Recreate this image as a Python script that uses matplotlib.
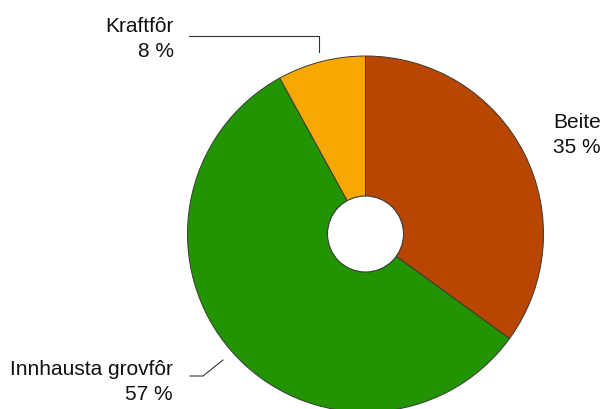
import matplotlib.pyplot as plt
from matplotlib.patches import Circle

labels = ['Beite', 'Innhausta grovfôr', 'Kraftfôr']
values = [35, 57, 8]
colors = ['#B84600', '#229400', '#F7A800']

plt.rcParams['font.family'] = ['Liberation Sans', 'DejaVu Sans']

fig = plt.figure(figsize=(6.06, 4.10), dpi=100)
ax = fig.add_axes([0, 0, 1, 1])

cx, cy, r = 365.5, 175, 178
ax.pie(values, colors=colors, startangle=90, counterclock=False,
       center=(cx, cy), radius=r,
       wedgeprops=dict(edgecolor='#3a3a3a', linewidth=0.7))
ax.add_patch(Circle((cx, cy), 38, facecolor='white', edgecolor='#3a3a3a', linewidth=0.8, zorder=5))

# etikettar
fs = 15
ax.text(553, 410 - 135, 'Beite\n%d %%' % values[0], ha='left', va='center',
        fontsize=fs, linespacing=1.4, color='#111111')
ax.text(174, 410 - 39, 'Kraftfôr\n%d %%' % values[2], ha='right', va='center',
        fontsize=fs, linespacing=1.4, color='#111111', multialignment='right')
ax.text(173, 410 - 382, 'Innhausta grovfôr\n%d %%' % values[1], ha='right', va='center',
        fontsize=fs, linespacing=1.4, color='#111111', multialignment='right')

# leiarlinjer
ax.plot([189, 319, 319], [410 - 37, 410 - 37, 410 - 53], color='#333333', lw=0.8)
ax.plot([190, 203, 223], [410 - 377, 410 - 377, 410 - 361], color='#333333', lw=0.8)

ax.set_xlim(0, 606)
ax.set_ylim(0, 410)
ax.set_aspect('auto')
ax.axis('off')

fig.savefig('out.png', dpi=100)
